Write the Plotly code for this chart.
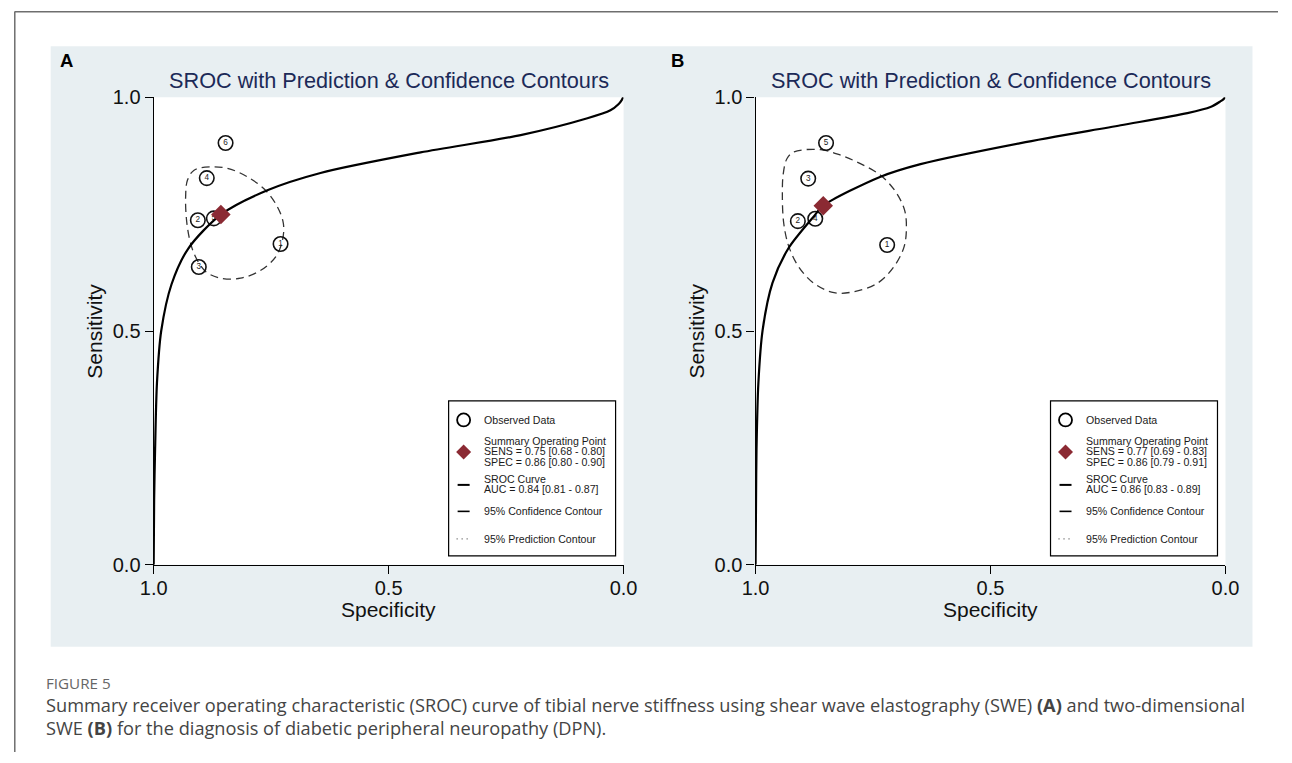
import plotly.graph_objects as go

W, H = 1292, 763

# ---------------- data ----------------
tick_vals = [0.0, 0.5, 1.0]
tick_text = ["0.0", "0.5", "1.0"]

# Panel A
a_obs_spec = [0.730, 0.906, 0.904, 0.887, 0.872, 0.847]
a_obs_sens = [0.686, 0.737, 0.637, 0.827, 0.741, 0.902]
a_obs_lab = ["1", "2", "3", "4", "5", "6"]
a_sum_spec = [0.857]
a_sum_sens = [0.749]
a_sroc_spec = [1.000, 0.999, 0.997, 0.993, 0.984, 0.962, 0.926, 0.857,
               0.758, 0.645, 0.432, 0.219, 0.077, 0.028, 0.011, 0.004, 0.001]
a_sroc_sens = [0.000, 0.139, 0.246, 0.389, 0.500, 0.600, 0.677, 0.749,
               0.801, 0.838, 0.882, 0.919, 0.955, 0.972, 0.985, 0.994, 1.000]
a_conf_spec = [0.879, 0.843, 0.801, 0.762, 0.737, 0.724, 0.726, 0.740, 0.772, 0.815,
               0.857, 0.889, 0.911, 0.923, 0.930, 0.932, 0.928, 0.914, 0.879]
a_conf_sens = [0.851, 0.848, 0.830, 0.801, 0.766, 0.730, 0.694, 0.659, 0.630, 0.613,
               0.613, 0.627, 0.659, 0.694, 0.737, 0.787, 0.823, 0.844, 0.851]
a_legend = ["Observed Data",
            "Summary Operating Point", "SENS = 0.75 [0.68 - 0.80]", "SPEC = 0.86 [0.80 - 0.90]",
            "SROC Curve", "AUC = 0.84 [0.81 - 0.87]",
            "95% Confidence Contour", "95% Prediction Contour"]

# Panel B
b_obs_spec = [0.720, 0.910, 0.888, 0.873, 0.850]
b_obs_sens = [0.684, 0.735, 0.826, 0.740, 0.902]
b_obs_lab = ["1", "2", "3", "4", "5"]
b_sum_spec = [0.856]
b_sum_sens = [0.768]
b_sroc_spec = [1.000, 0.999, 0.998, 0.994, 0.985, 0.964, 0.930, 0.877, 0.856,
               0.734, 0.649, 0.436, 0.223, 0.081, 0.032, 0.011, 0.004, 0.001]
b_sroc_sens = [0.000, 0.139, 0.246, 0.389, 0.502, 0.603, 0.677, 0.744, 0.768,
               0.830, 0.857, 0.902, 0.940, 0.966, 0.979, 0.991, 0.996, 1.000]
b_conf_spec = [0.918, 0.862, 0.819, 0.777, 0.734, 0.702, 0.683, 0.679, 0.684, 0.706,
               0.741, 0.791, 0.833, 0.876, 0.908, 0.929, 0.940, 0.943, 0.941, 0.933, 0.918]
b_conf_sens = [0.883, 0.888, 0.876, 0.858, 0.833, 0.798, 0.759, 0.723, 0.680, 0.637,
               0.602, 0.584, 0.582, 0.602, 0.637, 0.680, 0.730, 0.794, 0.837, 0.869, 0.883]
b_legend = ["Observed Data",
            "Summary Operating Point", "SENS = 0.77 [0.69 - 0.83]", "SPEC = 0.86 [0.79 - 0.91]",
            "SROC Curve", "AUC = 0.86 [0.83 - 0.89]",
            "95% Confidence Contour", "95% Prediction Contour"]

title_text = "SROC with Prediction & Confidence Contours"
panel_letters = ["A", "B"]
x_title = "Specificity"
y_title = "Sensitivity"
caption_head = "FIGURE 5"
caption_l1 = ("Summary receiver operating characteristic (SROC) curve of tibial nerve stiffness "
              "using shear wave elastography (SWE) <b>(A)</b> and two-dimensional")
caption_l2 = "SWE <b>(B)</b> for the diagnosis of diabetic peripheral neuropathy (DPN)."

# ---------------- style ----------------
FONT = "Arial, Liberation Sans, sans-serif"
CAPFONT = "Open Sans, sans-serif"
NAVY = "#1c2a58"
PANEL = "#e8eff2"
RED = "#8b2a33"

# the photographed page is shown with a small border; positions below are given in
# picture pixels and mapped back to page pixels
SX, OX = 0.9785, 13.3
SY, OY = 0.972, 10.7


def px(t):
    return (t - OX) / SX / W


def py(t):
    return 1 - (t - OY) / SY / H


fig = go.Figure()

plots = [dict(x0=153, x1=623), dict(x0=755, x1=1225)]
Y0, Y1 = 97, 565

panels = [
    dict(os=a_obs_spec, on=a_obs_sens, ol=a_obs_lab, ss=a_sum_spec, sn=a_sum_sens,
         rs=a_sroc_spec, rn=a_sroc_sens, cs=a_conf_spec, cn=a_conf_sens, leg=a_legend),
    dict(os=b_obs_spec, on=b_obs_sens, ol=b_obs_lab, ss=b_sum_spec, sn=b_sum_sens,
         rs=b_sroc_spec, rn=b_sroc_sens, cs=b_conf_spec, cn=b_conf_sens, leg=b_legend),
]

shapes = []
annotations = []

shapes.append(dict(type="rect", xref="paper", yref="paper", x0=px(50), x1=px(1252),
                   y0=py(647), y1=py(46), fillcolor=PANEL, line=dict(width=0), layer="below"))
shapes.append(dict(type="line", xref="paper", yref="paper", x0=0.8 / W, x1=0.8 / W,
                   y0=1 - 0.8 / H, y1=0, line=dict(color="#6e6e6e", width=1.5)))
shapes.append(dict(type="line", xref="paper", yref="paper", x0=0.5 / W, x1=1,
                   y0=1 - 0.8 / H, y1=1 - 0.8 / H, line=dict(color="#6e6e6e", width=1.5)))

for i, (p, g) in enumerate(zip(panels, plots)):
    xa = "x" if i == 0 else "x2"
    ya = "y" if i == 0 else "y2"
    shapes.append(dict(type="rect", xref="paper", yref="paper", x0=px(g["x0"]), x1=px(g["x1"]),
                       y0=py(Y1), y1=py(Y0), fillcolor="white", line=dict(width=0), layer="below"))

    fig.add_trace(go.Scatter(x=p["cs"], y=p["cn"], mode="lines", xaxis=xa, yaxis=ya,
                             line=dict(color="#333333", width=1.3, dash="8px,5px", shape="spline",
                                       smoothing=1.0),
                             hoverinfo="skip", showlegend=False))
    fig.add_trace(go.Scatter(x=p["os"], y=p["on"], mode="markers+text", xaxis=xa, yaxis=ya,
                             text=p["ol"], textposition="middle center",
                             textfont=dict(family=FONT, size=8.2, color="#222"),
                             marker=dict(symbol="circle-open", size=14.5, color="#111",
                                         line=dict(width=1.6, color="#111")),
                             showlegend=False))
    fig.add_trace(go.Scatter(x=p["rs"], y=p["rn"], mode="lines", xaxis=xa, yaxis=ya,
                             line=dict(color="black", width=2.2, shape="spline", smoothing=0.8),
                             hoverinfo="skip", showlegend=False))
    fig.add_trace(go.Scatter(x=p["ss"], y=p["sn"], mode="markers", xaxis=xa, yaxis=ya,
                             marker=dict(symbol="diamond", size=15, color=RED),
                             showlegend=False))

    off = 0 if i == 0 else 602
    cx = (g["x0"] + g["x1"]) / 2
    annotations.append(dict(x=px(57 if i == 0 else 668), y=py(60), xref="paper", yref="paper",
                            text="<b>%s</b>" % panel_letters[i], showarrow=False,
                            xanchor="left", yanchor="middle",
                            font=dict(family=FONT, size=18.5, color="black")))
    annotations.append(dict(x=px(cx + 0.5), y=py(80), xref="paper", yref="paper", text=title_text,
                            showarrow=False, xanchor="center", yanchor="middle",
                            font=dict(family=FONT, size=21.7, color=NAVY)))
    annotations.append(dict(x=px(cx), y=py(610), xref="paper", yref="paper", text=x_title,
                            showarrow=False, xanchor="center", yanchor="middle",
                            font=dict(family=FONT, size=21, color="#111")))
    annotations.append(dict(x=px(93 + off), y=py(331), xref="paper", yref="paper", text=y_title,
                            showarrow=False, xanchor="center", yanchor="middle", textangle=-90,
                            font=dict(family=FONT, size=21, color="#111")))

    lx0, lx1, ly0, ly1 = 448 + off, 615 + off, 401, 556
    shapes.append(dict(type="rect", xref="paper", yref="paper", x0=px(lx0), x1=px(lx1),
                       y0=py(ly1), y1=py(ly0), fillcolor="white",
                       line=dict(color="black", width=1.2)))
    sx = 463 + off
    tx = 481.5 + off
    shapes.append(dict(type="circle", xref="paper", yref="paper", x0=px(sx - 6.5), x1=px(sx + 6.5),
                       y0=py(420 + 6.5), y1=py(420 - 6.5), line=dict(color="black", width=1.8)))
    d = 7.5
    path = "M %f %f L %f %f L %f %f L %f %f Z" % (
        px(sx), py(452 - d), px(sx + d), py(452), px(sx), py(452 + d), px(sx - d), py(452))
    shapes.append(dict(type="path", xref="paper", yref="paper", path=path,
                       fillcolor=RED, line=dict(width=0)))
    shapes.append(dict(type="line", xref="paper", yref="paper", x0=px(sx - 6), x1=px(sx + 6),
                       y0=py(485), y1=py(485), line=dict(color="black", width=2)))
    shapes.append(dict(type="line", xref="paper", yref="paper", x0=px(sx - 6), x1=px(sx + 6),
                       y0=py(511.5), y1=py(511.5), line=dict(color="black", width=1.6)))
    shapes.append(dict(type="line", xref="paper", yref="paper", x0=px(sx - 7), x1=px(sx + 7),
                       y0=py(539), y1=py(539), line=dict(color="#555", width=1.2, dash="1px,4px")))
    ys = [420, 441, 451.5, 462, 479, 489.5, 511.5, 539]
    for t, yy in zip(p["leg"], ys):
        annotations.append(dict(x=px(tx), y=py(yy), xref="paper", yref="paper", text=t,
                                showarrow=False, xanchor="left", yanchor="middle",
                                font=dict(family=FONT, size=10.6, color="#1a1a1a")))

annotations.append(dict(x=px(43), y=py(683), xref="paper", yref="paper", text=caption_head,
                        showarrow=False, xanchor="left", yanchor="middle",
                        font=dict(family=CAPFONT, size=15.2, color="#666")))
annotations.append(dict(x=px(43), y=py(705), xref="paper", yref="paper", text=caption_l1,
                        showarrow=False, xanchor="left", yanchor="middle",
                        font=dict(family=CAPFONT, size=18.2, color="#444")))
annotations.append(dict(x=px(43), y=py(728), xref="paper", yref="paper", text=caption_l2,
                        showarrow=False, xanchor="left", yanchor="middle",
                        font=dict(family=CAPFONT, size=18.2, color="#444")))

axis_common = dict(showgrid=False, zeroline=False, showline=True, linecolor="black",
                   linewidth=1.3, ticks="outside", ticklen=8, tickwidth=1.3, tickcolor="black",
                   tickvals=tick_vals, ticktext=tick_text,
                   tickfont=dict(family=FONT, size=20, color="#111"), fixedrange=True)

fig.update_layout(
    width=W, height=H, margin=dict(l=0, r=0, t=0, b=0),
    paper_bgcolor="white", plot_bgcolor="white", showlegend=False,
    xaxis=dict(domain=[px(plots[0]["x0"]), px(plots[0]["x1"])], range=[1, 0], anchor="y",
               ticklabelstandoff=-3, **axis_common),
    yaxis=dict(domain=[py(Y1), py(Y0)], range=[0, 1], anchor="x", **axis_common),
    xaxis2=dict(domain=[px(plots[1]["x0"]), px(plots[1]["x1"])], range=[1, 0], anchor="y2",
                ticklabelstandoff=-3, **axis_common),
    yaxis2=dict(domain=[py(Y1), py(Y0)], range=[0, 1], anchor="x2", **axis_common),
    shapes=shapes, annotations=annotations,
)

fig.write_html("out.html", config={"displayModeBar": False},
               post_script="document.body.style.margin='0px';document.body.style.overflow='hidden';")
